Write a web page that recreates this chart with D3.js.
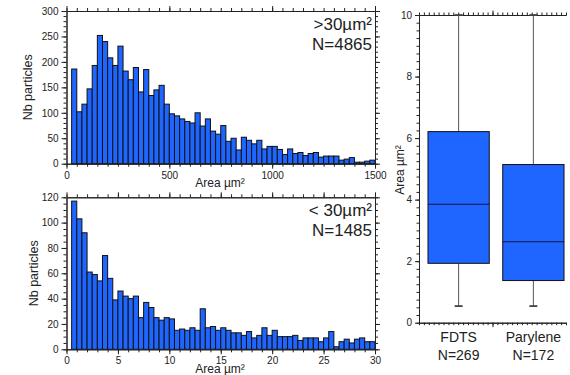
<!DOCTYPE html>
<html lang="en">
<head>
<meta charset="UTF-8">
<title>Particle area distributions</title>
<script src="https://d3js.org/d3.v7.min.js"></script>
<style>
  body { margin: 0; background: #fff; }
  svg { display: block; font-family: "Liberation Sans", Arial, sans-serif; }
  .axis text { font-size: 10px; fill: #222; }
  .axis path, .axis line { stroke: #222; stroke-width: 1; }
  .bar { fill: #1e66ff; stroke: #111; stroke-width: 1; }
  .lbl { font-size: 12px; fill: #222; }
  .note { font-size: 17px; fill: #222; text-anchor: end; }
</style>
</head>
<body>
<svg id="chart" width="570" height="375"></svg>
<script>
// > 30 µm² : bins of 25 µm², from 25 to 1500
const largeStart = 25, largeStep = 25;
const largeCounts = [186, 102, 117, 147, 193, 252, 240, 208, 193, 231,
  182, 165, 189, 141, 185, 134, 145, 154, 117, 98,
  94, 88, 83, 80, 100, 74, 88, 64, 58, 75,
  44, 50, 27, 52, 46, 39, 46, 29, 34, 34,
  28, 18, 29, 20, 22, 16, 20, 22, 13, 15,
  15, 15, 7, 9, 12, 3, 3, 5, 7];

// < 30 µm² : bins of 0.5 µm², from 0.5 to 30
const smallStart = 0.5, smallStep = 0.5;
const smallCounts = [117, 103, 92, 61, 59, 54, 74, 56, 39, 46,
  42, 40, 42, 25, 37, 33, 25, 23, 25, 24,
  15, 16, 15, 17, 15, 32, 17, 18, 15, 17,
  15, 13, 13, 11, 14, 9, 11, 17, 11, 15,
  10, 10, 10, 11, 7, 9, 9, 9, 6, 9,
  14, 2, 6, 8, 5, 8, 9, 6, 6];

// box plot summaries
const boxGroups = ['FDTS', 'Parylene'];
const boxN = [269, 172];
const boxLow = [0.54, 0.54];
const boxQ1 = [1.93, 1.37];
const boxMedian = [3.85, 2.63];
const boxQ3 = [6.21, 5.14];
const boxHigh = [10, 10];

const svg = d3.select('#chart');

function ticks(a, b, s) { return d3.range(a, b + s / 2, s); }

// frame with outward ticks on all four sides
function frame(g, x, y, o) {
  const [x0, x1] = x.range();
  const [y0, y1] = y.range();
  const sides = [
    [d3.axisBottom, `translate(0,${y0})`, x, o.xMajor, o.xMinor, true],
    [d3.axisTop, `translate(0,${y1})`, x, o.xMajor, o.xMinor, false],
    [d3.axisLeft, `translate(${x0},0)`, y, o.yMajor, o.yMinor, true],
    [d3.axisRight, `translate(${x1},0)`, y, o.yMajor, o.yMinor, false],
  ];
  for (const [fn, tr, sc, major, minor, labels] of sides) {
    g.append('g').attr('class', 'axis').attr('transform', tr)
      .call(fn(sc).tickValues(minor).tickSize(3).tickSizeOuter(0).tickFormat(''));
    g.append('g').attr('class', 'axis').attr('transform', tr)
      .call(fn(sc).tickValues(major).tickSize(5).tickSizeOuter(0)
        .tickFormat(labels ? d3.format('d') : ''));
  }
}

function histogram(o) {
  const g = svg.append('g');
  const x = d3.scaleLinear().domain(o.xDomain).range([66.5, 375]);
  const y = d3.scaleLinear().domain(o.yDomain).range(o.yRange);

  g.selectAll('rect')
    .data(o.counts)
    .enter().append('rect')
    .attr('class', 'bar')
    .attr('x', (d, i) => x(o.start + i * o.step))
    .attr('width', x(o.step) - x(0))
    .attr('y', d => y(d))
    .attr('height', d => y(0) - y(d));

  frame(g, x, y, o);

  g.append('text').attr('class', 'lbl')
    .attr('transform', `translate(${o.yLabelX},${(o.yRange[0] + o.yRange[1]) / 2}) rotate(-90)`)
    .attr('text-anchor', 'middle').style('font-size', '12.5px')
    .text('Nb particles');
  g.append('text').attr('class', 'lbl')
    .attr('x', 220).attr('y', o.yRange[0] + 23.5)
    .attr('text-anchor', 'middle')
    .text('Area µm²');
  o.notes.forEach((t, i) => {
    g.append('text').attr('class', 'note')
      .attr('x', 372).attr('y', o.yRange[1] + 19 + i * 19.5)
      .text(t);
  });
}

histogram({
  counts: largeCounts, start: largeStart, step: largeStep,
  xDomain: [0, 1500], yDomain: [0, 300], yRange: [163.7, 11],
  xMajor: [0, 500, 1000, 1500], xMinor: ticks(0, 1500, 50),
  yMajor: ticks(0, 300, 50), yMinor: ticks(0, 300, 10),
  yLabelX: 32, notes: ['>30µm²', 'N=4865'],
});

histogram({
  counts: smallCounts, start: smallStart, step: smallStep,
  xDomain: [0, 30], yDomain: [0, 120], yRange: [349.3, 197.3],
  xMajor: ticks(0, 30, 5), xMinor: ticks(0, 30, 1),
  yMajor: ticks(0, 120, 20), yMinor: ticks(0, 120, 5),
  yLabelX: 38, notes: ['< 30µm²', 'N=1485'],
});

// box plot
const bg = svg.append('g');
const by = d3.scaleLinear().domain([0, 10]).range([322.7, 15]);
const bx = d3.scaleBand().domain(boxGroups).range([422, 570])
  .paddingInner(0.18).paddingOuter(0.08);
const fx = d3.scaleLinear().domain([0, 30]).range([419, 566]);

bg.append('g').attr('class', 'axis').attr('transform', 'translate(419,0)')
  .call(d3.axisLeft(by).tickValues(ticks(0, 10, 0.25)).tickSize(2.5).tickSizeOuter(0).tickFormat(''));
bg.append('g').attr('class', 'axis').attr('transform', 'translate(419,0)')
  .call(d3.axisLeft(by).tickValues(ticks(0, 10, 2)).tickSize(4).tickSizeOuter(0).tickFormat(d3.format('d')));
for (const [fn, yy] of [[d3.axisBottom, by(0)], [d3.axisTop, by(10)]]) {
  bg.append('g').attr('class', 'axis').attr('transform', `translate(0,${yy})`)
    .call(fn(fx).tickValues(ticks(0, 30, 1)).tickSize(2.5).tickSizeOuter(0).tickFormat(''));
  bg.append('g').attr('class', 'axis').attr('transform', `translate(0,${yy})`)
    .call(fn(fx).tickValues([15]).tickSize(4.5).tickSizeOuter(0).tickFormat(''));
}

boxGroups.forEach((name, i) => {
  const cx = bx(name) + bx.bandwidth() / 2;
  const g = bg.append('g');
  g.append('line').attr('x1', cx).attr('x2', cx)
    .attr('y1', by(boxLow[i])).attr('y2', by(boxQ1[i]))
    .attr('stroke', '#555');
  g.append('line').attr('x1', cx).attr('x2', cx)
    .attr('y1', by(boxQ3[i])).attr('y2', by(boxHigh[i]))
    .attr('stroke', '#555');
  for (const v of [boxLow[i], boxHigh[i]]) {
    g.append('line').attr('x1', cx - 4).attr('x2', cx + 4)
      .attr('y1', by(v)).attr('y2', by(v))
      .attr('stroke', '#444').attr('stroke-width', 1.8);
  }
  g.append('rect').attr('class', 'bar')
    .attr('x', bx(name)).attr('width', bx.bandwidth())
    .attr('y', by(boxQ3[i])).attr('height', by(boxQ1[i]) - by(boxQ3[i]))
    .attr('stroke-width', 1.2);
  g.append('line').attr('x1', bx(name)).attr('x2', bx(name) + bx.bandwidth())
    .attr('y1', by(boxMedian[i])).attr('y2', by(boxMedian[i]))
    .attr('stroke', '#14143c').attr('stroke-width', 1.2);
  g.append('text').attr('x', cx).attr('y', 342)
    .attr('text-anchor', 'middle').style('font-size', '14px').attr('fill', '#222')
    .text(name);
  g.append('text').attr('x', cx).attr('y', 360)
    .attr('text-anchor', 'middle').style('font-size', '14px').attr('fill', '#222')
    .text('N=' + boxN[i]);
});

bg.append('text').attr('class', 'lbl')
  .attr('transform', `translate(404,170) rotate(-90)`)
  .attr('text-anchor', 'middle')
  .text('Area µm²');
</script>
</body>
</html>
